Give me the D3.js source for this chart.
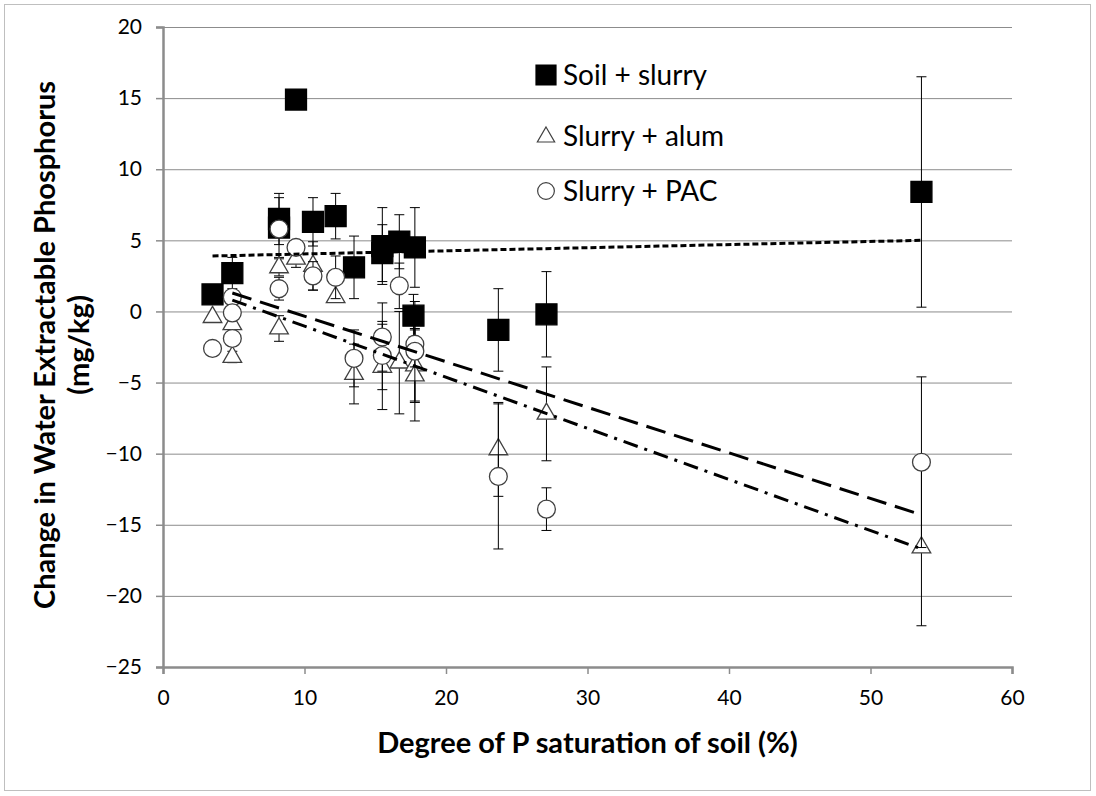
<!DOCTYPE html>
<html>
<head>
<meta charset="utf-8">
<script src="https://cdn.jsdelivr.net/npm/d3@7"></script>
<style>
  body { margin: 0; background: #fff; }
  text { font-family: Lato, "Open Sans", sans-serif; fill: #000; }
</style>
</head>
<body>
<div id="chart"></div>
<script>
// values: x, y, error half-width
var soilX   = [3.5, 4.9, 8.2, 8.2, 9.4, 10.6, 12.2, 13.5, 15.5, 15.5, 16.7, 17.8, 17.7, 23.7, 27.1, 53.6];
var soilY   = [1.2, 2.7, 6.5, 5.9, 14.9, 6.3, 6.7, 3.1, 4.6, 4.1, 4.9, 4.5, -0.3, -1.3, -0.2, 8.4];
var soilErr = [0, 1.1, 1.8, 2.1, 0, 1.7, 1.6, 2.2, 2.7, 2.0, 1.9, 2.8, 1.5, 2.9, 3.0, 8.1];

var alumX   = [3.5, 4.9, 4.9, 8.2, 8.2, 9.4, 10.6, 12.2, 13.5, 15.5, 16.7, 17.8, 17.8, 23.7, 27.1, 53.6];
var alumY   = [-0.4, -0.9, -3.2, 3.1, -1.2, 3.7, 3.2, 1.0, -4.4, -3.9, -3.6, -3.8, -4.5, -9.7, -7.2, -16.6];
var alumErr = [0, 0.5, 0.4, 0.6, 0.9, 0.6, 1.7, 0, 2.1, 3.0, 3.6, 2.6, 3.2, 3.3, 3.3, 5.5];

var pacX   = [3.5, 4.9, 4.9, 4.9, 8.2, 8.2, 9.4, 10.6, 12.2, 13.5, 15.5, 15.5, 16.7, 17.8, 17.8, 23.7, 27.1, 53.6];
var pacY   = [-2.6, 1.0, -0.1, -1.9, 5.8, 1.6, 4.5, 2.5, 2.4, -3.3, -1.8, -3.1, 1.8, -2.3, -2.8, -11.6, -13.9, -10.6];
var pacErr = [0, 0, 0, 0.5, 0, 0.8, 0.5, 1.0, 1.5, 2.0, 2.4, 2.4, 1.6, 1.6, 3.5, 5.1, 1.5, 6.0];

// trendline end points [x0, y0, x1, y1]
var soilTrend = [3.5, 3.9, 53.6, 5.0];
var alumTrend = [4.9, 0.8, 53.6, -16.7];
var pacTrend  = [4.9, 1.3, 53.6, -14.3];

var xTicks = [0, 10, 20, 30, 40, 50, 60];
var yTicks = [20, 15, 10, 5, 0, -5, -10, -15, -20, -25];
var legendLabels = ["Soil + slurry", "Slurry + alum", "Slurry + PAC"];

var width = 1096, height = 796;
var plotLeft = 163, plotRight = 1012, plotTop = 27, plotBottom = 667;

var svg = d3.select("#chart").append("svg")
    .attr("width", width)
    .attr("height", height);

svg.append("rect")
    .attr("x", 4.5).attr("y", 4.5)
    .attr("width", 1086).attr("height", 786)
    .attr("fill", "#fff")
    .attr("stroke", "#bfbfbf");

var x = d3.scaleLinear().domain([0, 60]).range([plotLeft, plotRight]);
var y = d3.scaleLinear().domain([-25, 20]).range([plotBottom, plotTop]);

// grid
svg.append("g").selectAll("line")
    .data(yTicks.filter(function (d) { return d !== -25; }))
    .enter().append("line")
    .attr("x1", plotLeft).attr("x2", plotRight)
    .attr("y1", function (d) { return y(d) + 0.5; })
    .attr("y2", function (d) { return y(d) + 0.5; })
    .attr("stroke", "#8c8c8c")
    .attr("stroke-width", 1);

// axes
var xAxis = svg.append("g")
    .attr("transform", "translate(0," + plotBottom + ")")
    .call(d3.axisBottom(x).tickValues(xTicks).tickSize(7).tickPadding(12));
var yAxis = svg.append("g")
    .attr("transform", "translate(" + plotLeft + ",0)")
    .call(d3.axisLeft(y).tickValues(yTicks).tickSize(7).tickPadding(14));

[xAxis, yAxis].forEach(function (a) {
    a.select(".domain").attr("stroke", "#8c8c8c").attr("stroke-width", 2.5);
    a.selectAll(".tick line").attr("stroke", "#8c8c8c").attr("stroke-width", 1.5);
    a.selectAll(".tick text").attr("font-size", 21).attr("fill", "#000")
        .style("font-family", "Lato, sans-serif");
});
xAxis.selectAll(".tick text").attr("dy", "0.9em");

// error bars
function errorBars(xs, ys, es) {
    var g = svg.append("g");
    var idx = d3.range(xs.length).filter(function (i) { return es[i] > 0; });
    g.selectAll("line.v").data(idx).enter().append("line")
        .attr("x1", function (i) { return x(xs[i]); })
        .attr("x2", function (i) { return x(xs[i]); })
        .attr("y1", function (i) { return y(ys[i] + es[i]); })
        .attr("y2", function (i) { return y(ys[i] - es[i]); })
        .attr("stroke", "#000").attr("stroke-width", 1);
    [1, -1].forEach(function (s) {
        g.selectAll("line.c" + (s > 0 ? "a" : "b")).data(idx).enter().append("line")
            .attr("x1", function (i) { return x(xs[i]) - 5; })
            .attr("x2", function (i) { return x(xs[i]) + 5; })
            .attr("y1", function (i) { return y(ys[i] + s * es[i]); })
            .attr("y2", function (i) { return y(ys[i] + s * es[i]); })
            .attr("stroke", "#000").attr("stroke-width", 1);
    });
}

var sq = d3.symbol().type(d3.symbolSquare).size(440);
var tri = d3.symbol().type(d3.symbolTriangle).size(150);
var circ = d3.symbol().type(d3.symbolCircle).size(250);

function markers(xs, ys, sym, fill, stroke) {
    svg.append("g").selectAll("path")
        .data(d3.range(xs.length))
        .enter().append("path")
        .attr("d", sym)
        .attr("transform", function (i) { return "translate(" + x(xs[i]) + "," + y(ys[i]) + ")"; })
        .attr("fill", fill)
        .attr("stroke", stroke)
        .attr("stroke-width", 1.3);
}

errorBars(soilX, soilY, soilErr);
markers(soilX, soilY, sq, "#000", "#000");
errorBars(alumX, alumY, alumErr);
markers(alumX, alumY, tri, "#fff", "#404040");
errorBars(pacX, pacY, pacErr);
markers(pacX, pacY, circ, "#fff", "#404040");

// trendlines
function trend(t, dash) {
    svg.append("line")
        .attr("x1", x(t[0])).attr("y1", y(t[1]))
        .attr("x2", x(t[2])).attr("y2", y(t[3]))
        .attr("stroke", "#000")
        .attr("stroke-width", 3)
        .attr("stroke-dasharray", dash);
}
trend(soilTrend, "6,3");
trend(pacTrend, "20,9");
trend(alumTrend, "15,7,3,7");

// legend
var legend = svg.append("g");
var legendY = [75, 136, 191];
var legendSyms = [
    d3.symbol().type(d3.symbolSquare).size(400),
    d3.symbol().type(d3.symbolTriangle).size(130),
    d3.symbol().type(d3.symbolCircle).size(220)
];
legendLabels.forEach(function (lab, i) {
    legend.append("path")
        .attr("d", legendSyms[i])
        .attr("transform", "translate(546," + (legendY[i] + (i === 1 ? 1 : 0)) + ")")
        .attr("fill", i === 0 ? "#000" : "#fff")
        .attr("stroke", i === 0 ? "#000" : "#404040")
        .attr("stroke-width", 1.2);
    legend.append("text")
        .attr("x", 563)
        .attr("y", legendY[i])
        .attr("dy", "0.35em")
        .attr("font-size", 28)
        .text(lab);
});

// axis titles
svg.append("text")
    .attr("x", (plotLeft + plotRight) / 2)
    .attr("y", 753)
    .attr("text-anchor", "middle")
    .attr("font-size", 29)
    .attr("font-weight", "bold")
    .text("Degree of P saturation of soil (%)");

var yTitle = svg.append("g")
    .attr("transform", "translate(55,345)rotate(-90)");
yTitle.append("text")
    .attr("text-anchor", "middle")
    .attr("font-size", 29)
    .attr("font-weight", "bold")
    .text("Change in Water Extractable Phosphorus");
yTitle.append("text")
    .attr("y", 34)
    .attr("text-anchor", "middle")
    .attr("font-size", 29)
    .attr("font-weight", "bold")
    .text("(mg/kg)");
</script>
</body>
</html>
